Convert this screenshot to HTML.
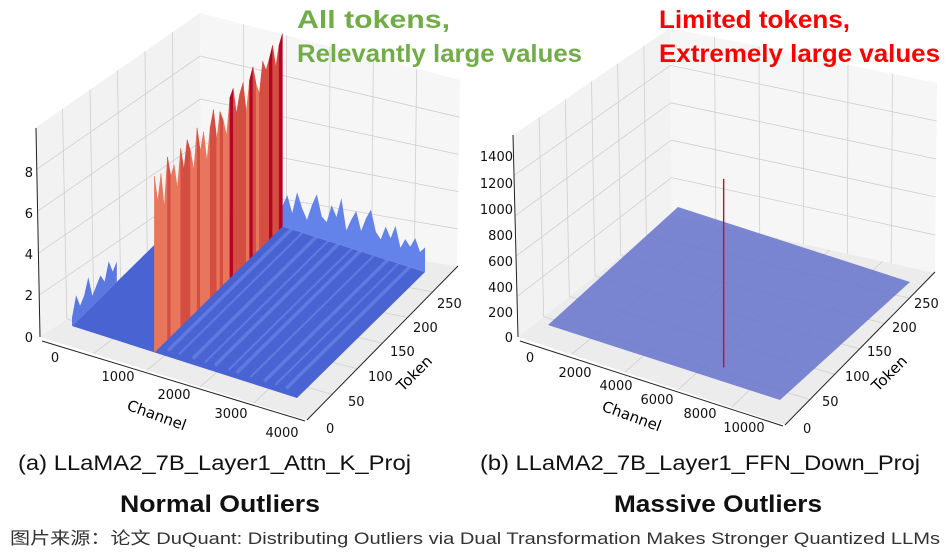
<!DOCTYPE html>
<html><head><meta charset="utf-8">
<style>
html,body{margin:0;padding:0;background:#fff;}
svg{display:block;font-family:"Liberation Sans","Noto Sans CJK SC",sans-serif;}
.tk{font-family:"DejaVu Sans","Liberation Sans",sans-serif;}
</style></head>
<body>
<svg id="fig" width="949" height="552" viewBox="0 0 949 552">
<g id="panesL"></g>
<g id="panesR"></g>
<g id="dataL"></g>
<g id="dataR"></g>

<g stroke="#222" stroke-width="1" fill="none">
  <polyline points="36,128 40,337"/>
  <polyline points="42,341 305,421"/>
  <polyline points="307,420 458,266"/>
</g>
<g class="tk" font-size="13" fill="#111" text-anchor="end">
  <text x="33" y="342">0</text><text x="33" y="300">2</text><text x="33" y="259">4</text><text x="33" y="218">6</text><text x="33" y="177">8</text>
</g>
<g class="tk" font-size="13" fill="#111" text-anchor="middle">
  <text x="55" y="362">0</text><text x="118" y="381">1000</text><text x="174" y="399">2000</text><text x="231" y="418">3000</text><text x="282" y="437">4000</text>
</g>
<g class="tk" font-size="13" fill="#111" text-anchor="start">
  <text x="326" y="433">0</text><text x="348" y="406">50</text><text x="368" y="381">100</text><text x="390" y="356">150</text><text x="413" y="332">200</text><text x="437" y="308">250</text>
</g>
<text class="tk" x="155" y="420" font-size="15" text-anchor="middle" transform="rotate(20 155 420)">Channel</text>
<text class="tk" x="418" y="377" font-size="15" text-anchor="middle" transform="rotate(-45 418 377)">Token</text>

<g stroke="#222" stroke-width="1" fill="none">
  <polyline points="513,135 518,337"/>
  <polyline points="520,341 783,426"/>
  <polyline points="785,425 935,272"/>
</g>
<g class="tk" font-size="13" fill="#111" text-anchor="end">
  <text x="513" y="342">0</text><text x="513" y="317">200</text><text x="513" y="292">400</text><text x="513" y="266">600</text><text x="513" y="240">800</text><text x="513" y="214">1000</text><text x="513" y="188">1200</text><text x="513" y="161">1400</text>
</g>
<g class="tk" font-size="13" fill="#111" text-anchor="middle">
  <text x="530" y="362">0</text><text x="575" y="377">2000</text><text x="616" y="390">4000</text><text x="657" y="404">6000</text><text x="700" y="418">8000</text><text x="744" y="432">10000</text>
</g>
<g class="tk" font-size="13" fill="#111" text-anchor="start">
  <text x="803" y="433">0</text><text x="822" y="406">50</text><text x="845" y="381">100</text><text x="867" y="356">150</text><text x="892" y="332">200</text><text x="914" y="308">250</text>
</g>
<text class="tk" x="630" y="421" font-size="15" text-anchor="middle" transform="rotate(20 630 421)">Channel</text>
<text class="tk" x="893" y="377" font-size="15" text-anchor="middle" transform="rotate(-45 893 377)">Token</text>

<text x="297" y="28" font-size="25" font-weight="bold" fill="#70ad47" textLength="153" lengthAdjust="spacingAndGlyphs">All tokens,</text>
<text x="297" y="62" font-size="25" font-weight="bold" fill="#70ad47" textLength="285" lengthAdjust="spacingAndGlyphs">Relevantly large values</text>
<text x="659" y="28" font-size="25" font-weight="bold" fill="#ff0000" textLength="191" lengthAdjust="spacingAndGlyphs">Limited tokens,</text>
<text x="659" y="62" font-size="25" font-weight="bold" fill="#ff0000" textLength="281" lengthAdjust="spacingAndGlyphs">Extremely large values</text>

<text x="18" y="470" font-size="21" fill="#111" textLength="393" lengthAdjust="spacingAndGlyphs">(a) LLaMA2_7B_Layer1_Attn_K_Proj</text>
<text x="480" y="470" font-size="21" fill="#111" textLength="440" lengthAdjust="spacingAndGlyphs">(b) LLaMA2_7B_Layer1_FFN_Down_Proj</text>
<text x="220" y="512" font-size="24" font-weight="bold" fill="#111" text-anchor="middle" textLength="200" lengthAdjust="spacingAndGlyphs">Normal Outliers</text>
<text x="718" y="512" font-size="24" font-weight="bold" fill="#111" text-anchor="middle" textLength="208" lengthAdjust="spacingAndGlyphs">Massive Outliers</text>
<text x="10" y="544" font-size="17" fill="#333" textLength="930" lengthAdjust="spacingAndGlyphs">图片来源：论文 DuQuant: Distributing Outliers via Dual Transformation Makes Stronger Quantized LLMs</text>
</svg>
<script>
const leftChannels = 4096;
const leftTokens = 256;
const outlierChannel = 1500;
const outlierHeights = [8.6,7.2,8.4,6.6,8.9,7.8,8.2,6.9,8.7,7.5,8.8,8.1,7.0,8.9,7.6,8.4,6.8,8.3,9.0,7.4,8.6,8.0,7.1,8.8,9.1,7.7,8.5,8.9,7.3,8.7,9.2,8.2,7.6,9.0,8.4,8.8,9.3,8.1,9.0,9.4];
const backNoise = [1.0,1.6,0.8,1.9,1.2,0.7,1.5,2.1,1.1,0.9,1.8,1.3,2.3,0.8,1.4,1.9,1.0,1.7,2.2,1.2,0.9,1.6,1.1,1.8,0.8,1.3,1.0,1.5,0.9,1.2];
const leftFrontNoise = [0.4,1.3,0.6,0.9,1.6,0.5,0.8,1.1,0.6,1.4,0.7,1.0];
const streakChannels = [1750,1950,2200,2420,2600,2850,3000,3250,3500,3700,3900];
const rightChannels = 11008;
const rightTokens = 256;
const spikeChannel = 7780;
const spikeToken = 23;
const spikeValue = 1450;

function projL(c,t,z){return [72 + c*225/leftChannels + t*128/leftTokens, 326 + c*72/leftChannels - t*126/leftTokens - z*20.5];}
function projR(c,t,z){return [548 + c*232/rightChannels + t*130/rightTokens, 325 + c*75/rightChannels - t*118/rightTokens - z*0.13];}
const NS='http://www.w3.org/2000/svg';
function mk(parent,tag,attrs){const e=document.createElementNS(NS,tag);for(const k in attrs)e.setAttribute(k,attrs[k]);parent.appendChild(e);return e;}
function pts(a){return a.map(p=>p[0].toFixed(1)+','+p[1].toFixed(1)).join(' ');}
function lerp(a,b,u){return [a[0]+(b[0]-a[0])*u,a[1]+(b[1]-a[1])*u];}

function panes(g,P){
  const walls=[[P.fb,P.ft,P.bt,P.bb,'#f2f2f2'],[P.bb,P.bt,P.rt,P.rb,'#f6f6f6'],[P.fb,P.bb,P.rb,P.fr,'#ececec']];
  walls.forEach(w=>{
    const p=mk(g,'polygon',{points:pts(w.slice(0,4)),fill:w[4],stroke:'none'});
    
    
  });
  const line=(s,e)=>{const l=mk(g,'line',{x1:s[0],y1:s[1],x2:e[0],y2:e[1],stroke:'#cfcfcf','stroke-width':0.8});
      
      };
  const grid=(a,b,c,d,n,m)=>{
    for(let i=1;i<n;i++){const u=i/n;line(lerp(a,b,u),lerp(d,c,u));}
    for(let i=1;i<m;i++){const u=i/m;line(lerp(a,d,u),lerp(b,c,u));}
  };
  grid(P.fb,P.ft,P.bt,P.bb,5,6);
  grid(P.bb,P.bt,P.rt,P.rb,5,6);
  grid(P.fb,P.bb,P.rb,P.fr,6,5);
}
panes(document.getElementById('panesL'),{fb:[40,337],ft:[35,128],bt:[200,13],bb:[201,228],rt:[460,80],rb:[457,266],fr:[307,420]});
panes(document.getElementById('panesR'),{fb:[518,337],ft:[513,135],bt:[670,28],bb:[672,215],rt:[937,83],rb:[935,273],fr:[785,425]});

const gL=document.getElementById('dataL');
const surf=mk(gL,'polygon',{points:pts([projL(0,0,0),projL(0,leftTokens,0),projL(leftChannels,leftTokens,0),projL(leftChannels,0,0)]),fill:'#4a63d3'});


(function(){
  const n=leftFrontNoise.length;const a=[projL(0,0,0)];
  leftFrontNoise.forEach((v,i)=>a.push(projL(0,leftTokens*0.35*i/(n-1),v)));
  a.push(projL(0,leftTokens*0.35,0));
  const p=mk(gL,'polygon',{points:pts(a),fill:'#5a78e0'});
  
  
})();
streakChannels.forEach((c,i)=>{
  const s=projL(c,0,0.3),e=projL(c,leftTokens,0.3);
  const l=mk(gL,'line',{x1:s[0],y1:s[1],x2:e[0],y2:e[1],stroke:'#7f9ff5','stroke-width':(i%2?2:3.5),opacity:0.4});
  
  
});
(function(){
  const n=backNoise.length;const a=[projL(outlierChannel,leftTokens,0)];
  backNoise.forEach((v,i)=>a.push(projL(outlierChannel+(leftChannels-outlierChannel)*i/(n-1),leftTokens,v)));
  a.push(projL(leftChannels,leftTokens,0));
  const p=mk(gL,'polygon',{points:pts(a),fill:'#6383ea'});
  
  
})();
(function(){
  const n=outlierHeights.length;
  for(let i=0;i<n-1;i++){
    const t0=leftTokens*i/(n-1),t1=leftTokens*(i+1)/(n-1);
    const h0=outlierHeights[i],h1=outlierHeights[i+1];
    const poly=[projL(outlierChannel,t0,0),projL(outlierChannel,t0,h0),projL(outlierChannel,t1,h1),projL(outlierChannel,t1,0)];
    const hm=(h0+h1)/2;
    const col=hm>8.7?'#b40426':hm>8.0?'#d44e41':hm>7.3?'#e8765c':'#f4a283';
    const p=mk(gL,'polygon',{points:pts(poly),fill:col,stroke:col,'stroke-width':0.5});
    
    
  }
})();

const gR=document.getElementById('dataR');
const s2=mk(gR,'polygon',{points:pts([projR(0,0,0),projR(0,rightTokens,0),projR(rightChannels,rightTokens,0),projR(rightChannels,0,0)]),fill:'#6673cc','fill-opacity':0.85});


(function(){
  const b=projR(spikeChannel,spikeToken,0),t=projR(spikeChannel,spikeToken,spikeValue);
  const l=mk(gR,'line',{x1:b[0],y1:b[1],x2:t[0],y2:t[1],stroke:'#c0102a','stroke-width':1.4});
  
  
})();
</script>
</body></html>
